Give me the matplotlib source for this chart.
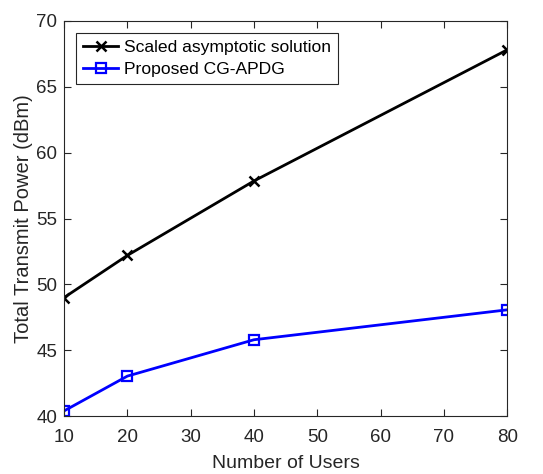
import matplotlib
matplotlib.use("Agg")
from matplotlib import pyplot as plt

plt.rcParams['font.family'] = ['Liberation Sans', 'DejaVu Sans']

users = [10, 20, 40, 80]
scaled_asym = [49.0, 52.2, 57.85, 67.8]
cg_apdg = [40.4, 43.04, 45.8, 48.07]

x_ticks = [10, 20, 30, 40, 50, 60, 70, 80]
y_ticks = [40, 45, 50, 55, 60, 65, 70]

axis_col = "#262626"

fig = plt.figure(figsize=(5.43, 4.74), dpi=100)
ax = fig.add_axes([0.118, 0.122, 0.816, 0.834])

ax.plot(users, scaled_asym, color="black", marker="x", markersize=7, mew=1.8,
        linewidth=2, label="Scaled asymptotic solution")
ax.plot(users, cg_apdg, color="#0000ff", marker="s", markersize=7, mfc="none", mew=1.6,
        linewidth=2, label="Proposed CG-APDG")

ax.set_xlim(10, 80)
ax.set_ylim(40, 70)
ax.set_xticks(x_ticks)
ax.set_yticks(y_ticks)
ax.tick_params(direction="in", top=True, right=True, length=5, width=0.8,
               labelsize=13.5, colors=axis_col)
ax.tick_params(axis="x", pad=9)
ax.tick_params(axis="y", pad=5)
for s in ax.spines.values():
    s.set_color(axis_col)
    s.set_linewidth(0.8)

ax.set_xlabel("Number of Users", fontsize=14, color=axis_col, labelpad=7)
ax.set_ylabel("Total Transmit Power (dBm)", fontsize=14.5, color=axis_col, labelpad=2)

leg = ax.legend(loc="upper left", bbox_to_anchor=(0.027, 0.97), fontsize=12.6,
                fancybox=False, framealpha=1, edgecolor=axis_col,
                handlelength=2.0, handletextpad=0.35, borderpad=0.4, labelspacing=0.4,
                borderaxespad=0)
leg.get_frame().set_linewidth(0.8)

fig.savefig("out.png", dpi=100)
